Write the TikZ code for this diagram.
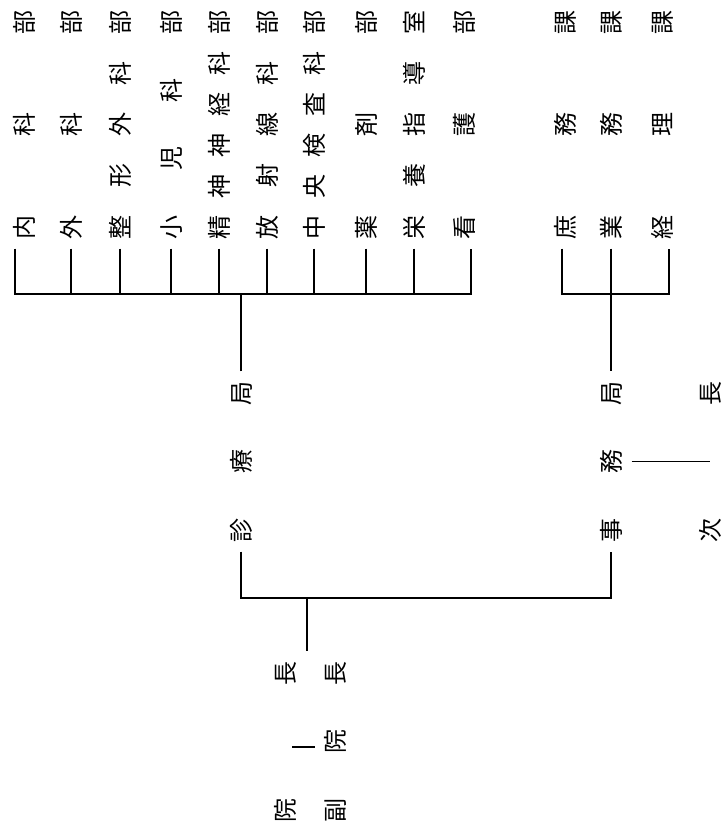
\documentclass[tikz,border=0pt]{standalone}
\usepackage{fontspec}
\newfontfamily\jpfont{Noto Sans CJK JP}
\usetikzlibrary{calc}

\begin{document}
\begin{tikzpicture}[x=1pt,y=-1pt,line width=1.3pt,
  font=\jpfont\fontsize{24}{24}\selectfont,
  vt/.style={rotate=90,inner xsep=9pt,inner ysep=1pt}]
  \useasboundingbox (0,0) rectangle (723,832);
  % departments of 診療局
  \node[vt] (naika)   at (24,124.5)  {\hbox to 229pt{内\hfill 科\hfill 部}};
  \node[vt] (geka)    at (71,124.5)  {\hbox to 229pt{外\hfill 科\hfill 部}};
  \node[vt] (seikei)  at (120,124.5) {\hbox to 229pt{整\hfill 形\hfill 外\hfill 科\hfill 部}};
  \node[vt] (shoni)   at (171,124.5) {\hbox to 229pt{小\hfill 児\hfill 科\hfill 部}};
  \node[vt] (seishin) at (219,124.5) {\hbox to 229pt{精\hfill 神\hfill 神\hfill 経\hfill 科\hfill 部}};
  \node[vt] (hosha)   at (267,124.5) {\hbox to 229pt{放\hfill 射\hfill 線\hfill 科\hfill 部}};
  \node[vt] (kensa)   at (314,124.5) {\hbox to 229pt{中\hfill 央\hfill 検\hfill 査\hfill 科\hfill 部}};
  \node[vt] (yakuzai) at (366,124.5) {\hbox to 229pt{薬\hfill 剤\hfill 部}};
  \node[vt] (eiyo)    at (414,124.5) {\hbox to 229pt{栄\hfill 養\hfill 指\hfill 導\hfill 室}};
  \node[vt] (kango)   at (464,124.5) {\hbox to 229pt{看\hfill 護\hfill 部}};
  % sections of 事務局
  \node[vt] (shomu) at (565,124.5) {\hbox to 229pt{庶\hfill 務\hfill 課}};
  \node[vt] (gyomu) at (611,124.5) {\hbox to 229pt{業\hfill 務\hfill 課}};
  \node[vt] (keiri) at (662,124.5) {\hbox to 229pt{経\hfill 理\hfill 課}};
  % bureaus and heads
  \node[vt] (shinryo) at (241,461.5) {\hbox to 161pt{診\hfill 療\hfill 局}};
  \node[vt] (jimu)    at (611,461.5) {\hbox to 161pt{事\hfill 務\hfill 局}};
  \node[vt] (jicho)   at (710,461.5) {\hbox to 161pt{次\hfill 長}};
  \node[vt] (incho)   at (285,741.5) {\hbox to 161pt{院\hfill 長}};
  \node[vt] (fuku)    at (335,741.5) {\hbox to 161pt{副\hfill 院\hfill 長}};

  \coordinate (topbus) at (241,294);
  \coordinate (lowbus) at (307,598);
  \coordinate (dl) at (292,747);
  \coordinate (dr) at (315,747);

  \draw ([xshift=-9pt]naika.west) |- (topbus) -| ([xshift=7pt]kango.west);
  \foreach \d in {geka,seikei,shoni,seishin,hosha,kensa,yakuzai,eiyo}
    \draw (\d.west) -- (\d.west |- topbus);
  \draw (shinryo.east) -- (shinryo.east |- topbus);
  \draw ([xshift=-3pt]shomu.west) |- (jimu.east |- topbus) -| ([xshift=7pt]keiri.west);
  \draw (gyomu.west) -- (jimu.east);
  \draw (shinryo.west) |- (lowbus) -| (jimu.west);
  \draw (lowbus) -- (lowbus |- incho.east);
  \draw[shorten <=8pt] (jimu.south) -- (jicho.center);
  \draw (dl) -- (dr);
\end{tikzpicture}
\end{document}
